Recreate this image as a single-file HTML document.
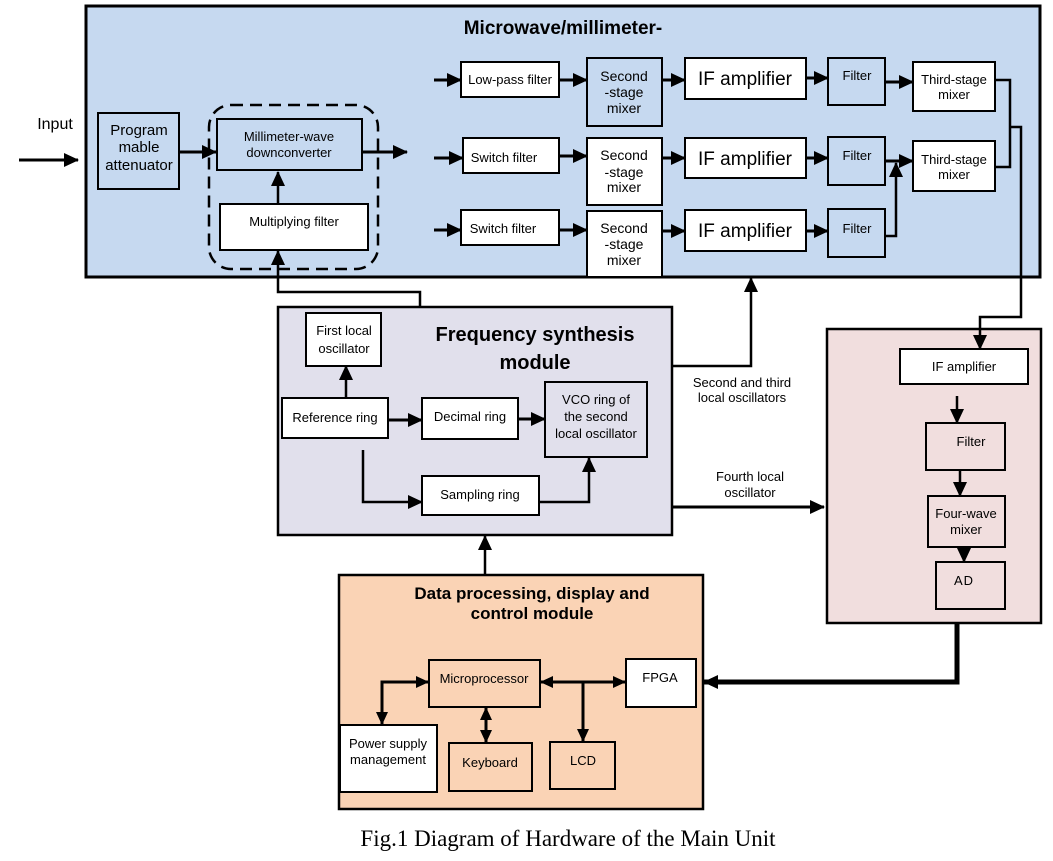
<!DOCTYPE html>
<html><head><meta charset="utf-8"><style>
html,body{margin:0;padding:0;background:#fff}
svg{display:block}
text{font-family:"Liberation Sans",Arial,sans-serif;fill:#000}
</style></head><body>
<svg width="1053" height="861" viewBox="0 0 1053 861" xmlns="http://www.w3.org/2000/svg">
<defs>
<marker id="a" markerUnits="userSpaceOnUse" markerWidth="16" markerHeight="16" refX="14" refY="8" orient="auto"><path d="M0,1 L15,8 L0,15 Z" fill="#000"/></marker>
<marker id="as" markerUnits="userSpaceOnUse" markerWidth="14" markerHeight="14" refX="12" refY="7" orient="auto-start-reverse"><path d="M0,1 L13,7 L0,13 Z" fill="#000"/></marker>
</defs>
<g stroke="#000" stroke-width="2">
<rect x="86" y="6" width="954" height="271" fill="#c6d9f0" stroke-width="3"/>
<rect x="278" y="307" width="394" height="228" fill="#e1e0ec" stroke-width="2.5"/>
<rect x="827" y="329" width="214" height="294" fill="#f1dede" stroke-width="2.5"/>
<rect x="339" y="575" width="364" height="234" fill="#fad3b5" stroke-width="2.5"/>
<rect x="98" y="113" width="81" height="76" fill="#c6d9f0"/>
<rect x="209" y="105" width="169" height="164" rx="22" fill="none" stroke-dasharray="12,7" stroke-width="2.5"/>
<rect x="217" y="119" width="145" height="51" fill="#c6d9f0"/>
<rect x="220" y="204" width="148" height="46" fill="#fff"/>
<rect x="461" y="62" width="98" height="35" fill="#fff"/>
<rect x="463" y="138" width="96" height="35" fill="#fff"/>
<rect x="461" y="210" width="98" height="35" fill="#fff"/>
<rect x="587" y="58" width="75" height="68" fill="#c6d9f0"/>
<rect x="587" y="138" width="75" height="67" fill="#fff"/>
<rect x="587" y="211" width="75" height="66" fill="#fff"/>
<rect x="685" y="58" width="121" height="41" fill="#fff"/>
<rect x="685" y="138" width="121" height="40" fill="#fff"/>
<rect x="685" y="210" width="121" height="41" fill="#fff"/>
<rect x="828" y="58" width="57" height="47" fill="#c6d9f0"/>
<rect x="828" y="137" width="57" height="48" fill="#c6d9f0"/>
<rect x="828" y="209" width="57" height="48" fill="#c6d9f0"/>
<rect x="913" y="62" width="82" height="49" fill="#fff"/>
<rect x="913" y="141" width="82" height="50" fill="#fff"/>
<rect x="306" y="313" width="75" height="53" fill="#fff"/>
<rect x="282" y="398" width="106" height="40" fill="#fff"/>
<rect x="422" y="398" width="96" height="41" fill="#fff"/>
<rect x="545" y="382" width="102" height="75" fill="#e1e0ec"/>
<rect x="422" y="476" width="117" height="39" fill="#fff"/>
<rect x="900" y="349" width="128" height="35" fill="#fff"/>
<rect x="926" y="423" width="79" height="47" fill="#f1dede"/>
<rect x="928" y="496" width="77" height="51" fill="#f1dede"/>
<rect x="936" y="562" width="69" height="47" fill="#f1dede"/>
<rect x="429" y="660" width="111" height="47" fill="#fad3b5"/>
<rect x="626" y="659" width="70" height="48" fill="#fff"/>
<rect x="340" y="725" width="97" height="67" fill="#fff"/>
<rect x="449" y="743" width="83" height="48" fill="#fad3b5"/>
<rect x="550" y="742" width="65" height="47" fill="#fad3b5"/>
</g>
<g stroke="#000" stroke-width="3" fill="none">
<path d="M19,160 H78" marker-end="url(#a)"/>
<path d="M179,152 H216" marker-end="url(#a)"/>
<path d="M362,152 H407" marker-end="url(#a)"/>
<path d="M278,204 V172" marker-end="url(#a)" stroke-width="2.5"/>
<path d="M420,307 V292 H278 V251" marker-end="url(#a)" stroke-width="2.5"/>
<path d="M434,80 H461" marker-end="url(#a)"/>
<path d="M434,158 H463" marker-end="url(#a)"/>
<path d="M434,230 H461" marker-end="url(#a)"/>
<path d="M559,80 H587" marker-end="url(#a)"/>
<path d="M559,156 H587" marker-end="url(#a)"/>
<path d="M559,230 H587" marker-end="url(#a)"/>
<path d="M662,80 H685" marker-end="url(#a)"/>
<path d="M662,158 H685" marker-end="url(#a)"/>
<path d="M662,231 H685" marker-end="url(#a)"/>
<path d="M806,78 H828" marker-end="url(#a)"/>
<path d="M806,158 H828" marker-end="url(#a)"/>
<path d="M806,231 H828" marker-end="url(#a)"/>
<path d="M885,82 H913" marker-end="url(#a)"/>
<path d="M885,161 H913" marker-end="url(#a)"/>
<path d="M885,236 H896 V163" marker-end="url(#a)" stroke-width="2.5"/>
<path d="M995,80 H1010 V167 H995" stroke-width="2.5"/>
<path d="M1010,127 H1021 V317 H980 V349" marker-end="url(#a)" stroke-width="2.5"/>
<path d="M672,366 H751 V278" marker-end="url(#a)" stroke-width="2.5"/>
<path d="M672,507 H824" marker-end="url(#a)"/>
<path d="M346,398 V366" marker-end="url(#a)" stroke-width="2.5"/>
<path d="M388,420 H422" marker-end="url(#a)"/>
<path d="M518,419 H545" marker-end="url(#a)"/>
<path d="M363,450 V502 H422" marker-end="url(#a)" stroke-width="2.5"/>
<path d="M539,502 H589 V458" marker-end="url(#a)" stroke-width="2.5"/>
<path d="M485,575 V536" marker-end="url(#a)" stroke-width="2.5"/>
<path d="M957,396 V423" marker-end="url(#a)" stroke-width="2.5"/>
<path d="M960,470 V496" marker-end="url(#a)" stroke-width="2.5"/>
<path d="M964,547 V562" marker-end="url(#a)" stroke-width="2.5"/>
<path d="M957,623 V682 H704" marker-end="url(#a)" stroke-width="5"/>
<path d="M541,682 H625" marker-start="url(#as)" marker-end="url(#as)"/>
<path d="M583,682 V741" marker-end="url(#as)"/>
<path d="M486,708 V742" marker-start="url(#as)" marker-end="url(#as)"/>
<path d="M382,724 V682 H428" marker-start="url(#as)" marker-end="url(#as)"/>
</g>
<g font-size="13" text-anchor="middle">
<text x="563" y="34" font-size="19" font-weight="bold">Microwave/millimeter-</text>
<text x="55" y="129" font-size="16">Input</text>
<text x="139" y="135" font-size="15">Program</text>
<text x="139" y="152" font-size="15">mable</text>
<text x="139" y="170" font-size="15">attenuator</text>
<text x="289" y="141">Millimeter-wave</text>
<text x="289" y="157">downconverter</text>
<text x="294" y="226">Multiplying filter</text>
<text x="510" y="84">Low-pass filter</text>
<text x="504" y="162">Switch filter</text>
<text x="503" y="233">Switch filter</text>
<g font-size="14">
<text x="624" y="81">Second</text><text x="624" y="97">-stage</text><text x="624" y="113">mixer</text>
<text x="624" y="160">Second</text><text x="624" y="177">-stage</text><text x="624" y="192">mixer</text>
<text x="624" y="233">Second</text><text x="624" y="249">-stage</text><text x="624" y="265">mixer</text>
</g>
<g font-size="19">
<text x="745" y="85">IF amplifier</text><text x="745" y="165">IF amplifier</text><text x="745" y="237">IF amplifier</text>
</g>
<text x="857" y="80">Filter</text><text x="857" y="160">Filter</text><text x="857" y="233">Filter</text>
<text x="954" y="84">Third-stage</text><text x="954" y="99">mixer</text>
<text x="954" y="164">Third-stage</text><text x="954" y="179">mixer</text>
<text x="535" y="341" font-size="20" font-weight="bold">Frequency synthesis</text>
<text x="535" y="369" font-size="20" font-weight="bold">module</text>
<text x="344" y="335">First local</text><text x="344" y="353">oscillator</text>
<text x="335" y="422">Reference ring</text>
<text x="470" y="421">Decimal ring</text>
<text x="596" y="404">VCO ring of</text><text x="596" y="421">the second</text><text x="596" y="438">local oscillator</text>
<text x="480" y="499">Sampling ring</text>
<text x="742" y="387">Second and third</text><text x="742" y="402">local oscillators</text>
<text x="750" y="481">Fourth local</text><text x="750" y="497">oscillator</text>
<text x="964" y="371">IF amplifier</text>
<text x="971" y="446">Filter</text>
<text x="966" y="518">Four-wave</text><text x="966" y="534">mixer</text>
<text x="964" y="585" letter-spacing="1">AD</text>
<text x="532" y="599" font-size="17" font-weight="bold">Data processing, display and</text>
<text x="532" y="619" font-size="17" font-weight="bold">control module</text>
<text x="484" y="683">Microprocessor</text>
<text x="660" y="682">FPGA</text>
<text x="388" y="748">Power supply</text><text x="388" y="764">management</text>
<text x="490" y="767">Keyboard</text>
<text x="583" y="765">LCD</text>
<text x="568" y="846" style="font-family:'Liberation Serif',serif;font-size:23px">Fig.1 Diagram of Hardware of the Main Unit</text>
</g>
</svg>
</body></html>
